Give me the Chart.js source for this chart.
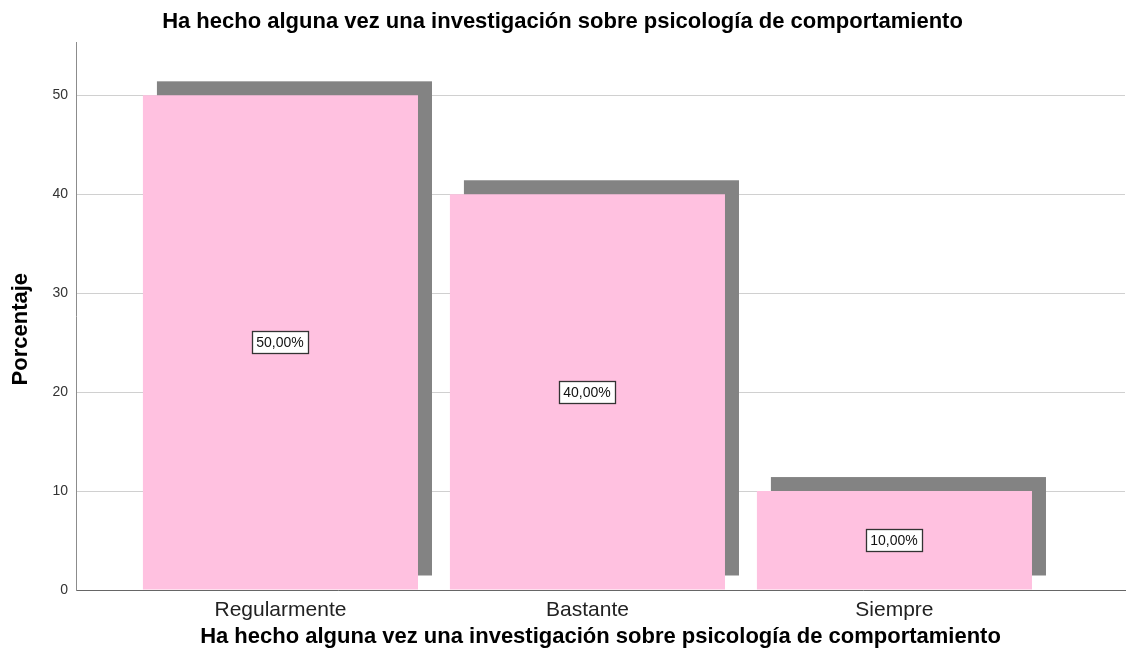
<!DOCTYPE html>
<html>
<head>
<meta charset="utf-8">
<script src="https://cdn.jsdelivr.net/npm/chart.js@4"></script>
<style>
html,body{margin:0;padding:0;background:#fff;}
#wrap{width:1138px;height:666px;}
</style>
</head>
<body>
<div id="wrap"><canvas id="c" width="1138" height="666"></canvas></div>
<script>
const categories = ["Regularmente", "Bastante", "Siempre"];
const values = [50, 40, 10];
const yTicks = [0, 10, 20, 30, 40, 50];
const chartTitle = "Ha hecho alguna vez una investigación sobre psicología de comportamiento";
const xTitle = "Ha hecho alguna vez una investigación sobre psicología de comportamiento";
const yTitle = "Porcentaje";

const FONT = "'Liberation Sans', Arial, sans-serif";
const SHADOW = 14;

const shadowPlugin = {
  id: 'shadow',
  beforeDatasetsDraw(chart) {
    const ctx = chart.ctx;
    const meta = chart.getDatasetMeta(0);
    ctx.save();
    ctx.fillStyle = '#838383';
    meta.data.forEach(el => {
      const p = el.getProps(['x', 'y', 'base', 'width'], true);
      ctx.fillRect(p.x - p.width / 2 + SHADOW, p.y - SHADOW, p.width, p.base - p.y);
    });
    ctx.restore();
  }
};

const labelPlugin = {
  id: 'boxLabels',
  afterDatasetsDraw(chart) {
    const ctx = chart.ctx;
    const meta = chart.getDatasetMeta(0);
    ctx.save();
    ctx.font = '14px ' + FONT;
    ctx.textAlign = 'center';
    ctx.textBaseline = 'middle';
    meta.data.forEach((el, i) => {
      const p = el.getProps(['x', 'y', 'base'], true);
      const txt = values[i].toFixed(2).replace('.', ',') + '%';
      const w = Math.ceil(ctx.measureText(txt).width) + 8;
      const h = 22;
      const cx = Math.round(p.x), cy = Math.round((p.y + p.base) / 2);
      const bx = cx - Math.round(w / 2) + 0.5, by = cy - Math.round(h / 2) + 0.5;
      ctx.fillStyle = '#ffffff';
      ctx.fillRect(bx, by, w, h);
      ctx.strokeStyle = '#333333';
      ctx.lineWidth = 1.3;
      ctx.strokeRect(bx, by, w, h);
      ctx.fillStyle = '#111111';
      ctx.fillText(txt, cx, cy + 1);
    });
    ctx.restore();
  }
};

const yTitlePlugin = {
  id: 'yTitle',
  afterDraw(chart) {
    const ctx = chart.ctx;
    const area = chart.chartArea;
    ctx.save();
    ctx.font = 'bold 22px ' + FONT;
    ctx.fillStyle = '#000';
    ctx.textAlign = 'center';
    ctx.textBaseline = 'middle';
    ctx.translate(21, (area.top + area.bottom) / 2 + 13);
    ctx.rotate(-Math.PI / 2);
    ctx.fillText(yTitle, 0, 0);
    ctx.restore();
  }
};

new Chart(document.getElementById('c'), {
  type: 'bar',
  data: {
    datasets: [{
      data: categories.map((c, i) => ({ x: i, y: values[i] })),
      backgroundColor: 'rgb(255,193,224)',
      borderWidth: 0,
      barPercentage: 1,
      categoryPercentage: 0.896
    }]
  },
  options: {
    responsive: false,
    animation: false,
    layout: { padding: { left: 0, right: 13, top: 0, bottom: 0 } },
    plugins: {
      legend: { display: false },
      tooltip: { enabled: false },
      title: {
        display: true,
        text: chartTitle,
        color: '#000',
        font: { family: FONT, size: 22, weight: 'bold' },
        padding: { top: 9, bottom: 7 }
      }
    },
    scales: {
      x: {
        type: 'linear',
        offset: false,
        min: -0.666,
        max: 2.751,
        afterBuildTicks(scale) { scale.ticks = categories.map((c, i) => ({ value: i })); },
        afterFit(scale) { scale.height = 76; },
        grid: { display: false, drawTicks: false, offset: false },
        border: { display: true, color: '#666666', width: 1 },
        ticks: {
          autoSkip: false,
          maxRotation: 0,
          padding: 8,
          color: '#222',
          font: { family: FONT, size: 21 },
          callback: (v) => categories[v]
        },
        title: {
          display: true,
          text: xTitle,
          color: '#000',
          font: { family: FONT, size: 22, weight: 'bold' },
          padding: { top: 0, bottom: 16 }
        }
      },
      y: {
        min: 0,
        max: 55.35,
        afterBuildTicks(scale) { scale.ticks = yTicks.map(v => ({ value: v })); },
        afterFit(scale) { scale.width = 76; },
        grid: { color: '#d0d0d0', drawTicks: false, lineWidth: 1 },
        border: { display: true, color: '#8c8c8c', width: 1 },
        ticks: {
          padding: 8,
          color: '#333',
          font: { family: FONT, size: 14 }
        },
        title: { display: false }
      }
    }
  },
  plugins: [shadowPlugin, labelPlugin, yTitlePlugin]
});
</script>
</body>
</html>
